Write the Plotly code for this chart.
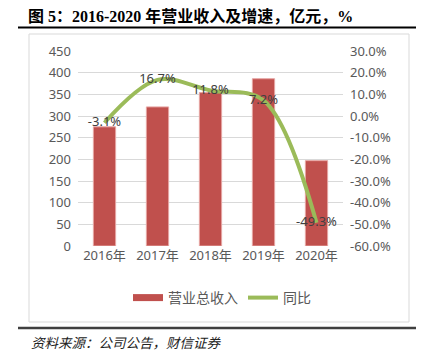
import plotly.graph_objects as go

categories = ["2016年", "2017年", "2018年", "2019年", "2020年"]
revenue = [275, 321, 354, 386, 197]
growth = [-3.1, 16.7, 11.8, 7.2, -49.3]
growth_labels = ["-3.1%", "16.7%", "11.8%", "7.2%", "-49.3%"]
left_ticks = list(range(0, 451, 50))
right_ticks = list(range(-60, 31, 10))

FONT = "Noto Sans, Noto Sans CJK SC, sans-serif"
GRAY = "#595959"

# the page body adds an 8px offset; compensate so the screenshot lines up
O = 8
W, H = 424 - O, 363 - O
# plot area in screenshot pixels: x 78..343, y 51..246
L = 78 - O
T = 51 - O
R = W - (343 - O)
B = H - (246 - O)
pw, ph = W - L - R, H - T - B


def px(x):
    return (x - O - L) / pw


def py(y):
    return (H - B - (y - O)) / ph


fig = go.Figure()
fig.add_trace(go.Bar(
    x=categories, y=revenue, name="营业总收入",
    marker=dict(color="#c0504d", line=dict(color="#e6a5a3", width=1)),
    width=0.42, showlegend=False, yaxis="y",
))
# legend swatch for the bar series (wide bar-like sample)
fig.add_trace(go.Scatter(
    x=[None], y=[None], mode="lines", name="营业总收入",
    line=dict(color="#c0504d", width=7), yaxis="y",
))
fig.add_trace(go.Scatter(
    x=categories, y=growth, name="同比", mode="lines+text",
    line=dict(color="#9bbb59", width=4, shape="spline", smoothing=1.0),
    text=growth_labels, textposition="middle center",
    textfont=dict(family=FONT, size=13, color="#404040"),
    yaxis="y2", cliponaxis=False,
))

fig.update_layout(
    width=W, height=H,
    margin=dict(l=L, r=R, t=T, b=B),
    paper_bgcolor="white", plot_bgcolor="white",
    font=dict(family=FONT, size=13, color=GRAY),
    title=dict(
        text="<b>图 5：2016-2020 年营业收入及增速，亿元，%</b>",
        x=(28 - O) / W, y=1 - (16 - O) / H, xanchor="left", yanchor="middle",
        font=dict(family="Liberation Serif, Noto Sans CJK SC, serif", size=16, color="#000000"),
    ),
    xaxis=dict(
        type="category", tickfont=dict(size=13, color=GRAY),
        showgrid=False, showline=False, ticks="",
    ),
    yaxis=dict(
        range=[0, 450], tickvals=left_ticks, showgrid=True,
        gridcolor="#d9d9d9", gridwidth=1, zeroline=False,
        tickfont=dict(size=13, color=GRAY), ticks="", ticklabelstandoff=6,
    ),
    yaxis2=dict(
        range=[-60, 30], tickvals=right_ticks,
        ticktext=[f"{v:.1f}%" for v in right_ticks],
        overlaying="y", side="right", showgrid=False, zeroline=False,
        tickfont=dict(size=13, color=GRAY), ticks="", ticklabelstandoff=6,
    ),
    legend=dict(
        orientation="h", x=px(222), y=py(298), xanchor="center", yanchor="middle",
        font=dict(size=14, color=GRAY), itemwidth=30, bgcolor="rgba(0,0,0,0)",
    ),
    showlegend=True,
)

shapes = [
    # chart border box
    dict(type="rect", xref="paper", yref="paper",
         x0=px(29), x1=px(409), y0=py(322), y1=py(34),
         line=dict(color="#d9d9d9", width=1), layer="below"),
    # title underline
    dict(type="line", xref="paper", yref="paper",
         x0=px(18), x1=px(421), y0=py(27.5), y1=py(27.5),
         line=dict(color="#000000", width=2)),
    # bottom rule
    dict(type="line", xref="paper", yref="paper",
         x0=px(18), x1=px(421), y0=py(328), y1=py(328),
         line=dict(color="#404040", width=2.5)),
]
fig.update_layout(shapes=shapes)

fig.add_annotation(
    text="资料来源：公司公告，财信证券", xref="paper", yref="paper",
    x=px(29), y=py(342), xanchor="left", yanchor="middle", showarrow=False,
    font=dict(family="Noto Sans CJK SC, serif", size=13.5, color="#222222", style="italic"),
)

fig.write_html("out.html")
